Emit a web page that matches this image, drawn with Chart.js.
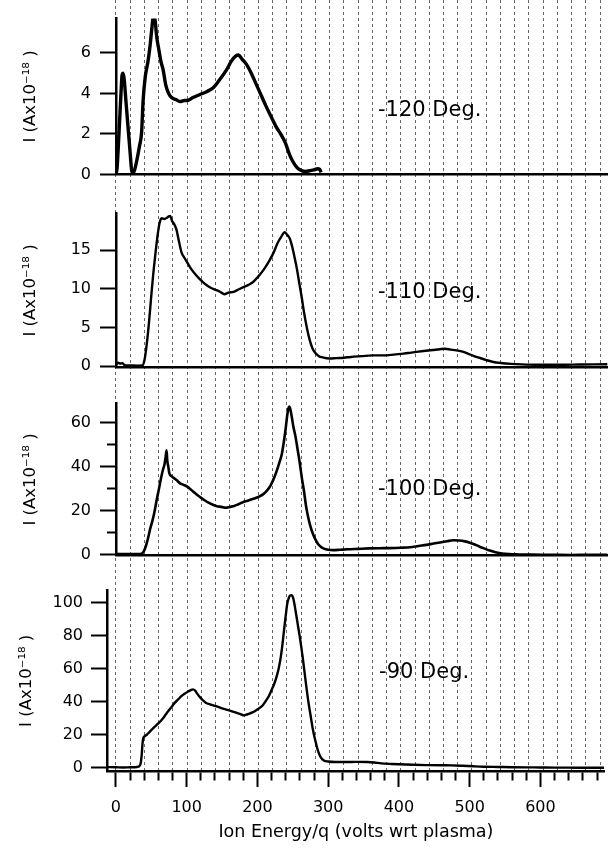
<!DOCTYPE html>
<html>
<head>
<meta charset="utf-8">
<title>Ion energy distributions</title>
<script src="https://cdn.jsdelivr.net/npm/chart.js@4.4.1/dist/chart.umd.min.js"></script>
<style>
  html, body { margin: 0; padding: 0; background: #fff; }
  #figure { position: relative; width: 608px; height: 848px; overflow: hidden; background: #fff; }
  #figure canvas { position: absolute; left: 0; }
</style>
</head>
<body>
<div id="figure">
  <canvas id="grid" width="608" height="771" style="top:0px;width:608px;height:771px"></canvas>
  <canvas id="deg120" width="608" height="193" style="top:0px;width:608px;height:193px"></canvas>
  <canvas id="deg110" width="608" height="191" style="top:195px;width:608px;height:191px"></canvas>
  <canvas id="deg100" width="608" height="189" style="top:385px;width:608px;height:189px"></canvas>
  <canvas id="deg90" width="608" height="275" style="top:573px;width:608px;height:275px"></canvas>
</div>
<script>
// Ion energy/q (volts wrt plasma) and collected current I (A x 1e-18), one pair per angle
const energy120 = [-12, 0, 1.5, 3, 5, 7, 8.5, 10, 11.5, 14, 17, 20, 22, 24, 26, 29, 33, 36, 38, 41, 45, 48, 50, 53, 55, 57, 60, 63, 66, 70, 74, 78, 84, 90, 96, 100, 108, 118, 128, 137, 146, 155, 162, 168, 172, 177, 183, 190, 197, 204, 211, 218, 225, 232, 238, 244, 249, 254, 260, 266, 272, 278, 283, 286, 288];
const current120 = [0, 0, 0.3, 1.2, 2.6, 4.0, 4.9, 5.0, 4.7, 3.6, 2.3, 1.0, 0.2, 0.05, 0.2, 0.65, 1.4, 2.1, 3.6, 4.8, 5.6, 6.4, 7.1, 7.9, 7.6, 6.85, 6.2, 5.6, 5.2, 4.4, 4.0, 3.8, 3.7, 3.6, 3.65, 3.65, 3.8, 3.95, 4.1, 4.3, 4.7, 5.15, 5.6, 5.85, 5.9, 5.7, 5.45, 5.0, 4.45, 3.9, 3.35, 2.85, 2.35, 1.95, 1.55, 0.95, 0.6, 0.35, 0.2, 0.15, 0.18, 0.22, 0.28, 0.25, 0.1];

const energy110 = [0, 3, 6, 9, 12, 20, 30, 37, 40, 43, 46, 49, 52, 55, 58, 61, 64, 68, 72, 76, 79, 82, 85, 88, 92, 96, 100, 106, 112, 118, 124, 130, 136, 142, 148, 152, 158, 165, 172, 179, 186, 193, 200, 207, 214, 221, 227, 232, 237, 240, 244, 247, 250, 254, 258, 261, 264, 268, 272, 276, 280, 285, 290, 300, 310, 320, 330, 345, 360, 375, 390, 400, 410, 422, 435, 445, 455, 462, 470, 478, 488, 495, 502, 510, 520, 530, 540, 555, 570, 590, 610, 630, 650, 670, 690];
const current110 = [0.2, 0.45, 0.35, 0.4, 0.15, 0.1, 0.08, 0.1, 0.8, 2.7, 5.3, 8.5, 11.6, 14.2, 16.6, 18.4, 19.1, 19.0, 19.2, 19.4, 18.7, 18.3, 17.6, 16.3, 14.7, 14.0, 13.4, 12.5, 11.8, 11.2, 10.7, 10.3, 10.0, 9.8, 9.5, 9.3, 9.5, 9.6, 9.9, 10.2, 10.5, 10.9, 11.6, 12.4, 13.4, 14.6, 15.9, 16.7, 17.3, 17.0, 16.5, 15.6, 14.4, 12.6, 10.4, 8.8, 7.0, 5.0, 3.4, 2.3, 1.7, 1.3, 1.15, 1.0, 1.05, 1.1, 1.2, 1.3, 1.4, 1.4, 1.5, 1.6, 1.7, 1.85, 2.0, 2.1, 2.2, 2.25, 2.15, 2.05, 1.85, 1.6, 1.35, 1.1, 0.8, 0.55, 0.42, 0.3, 0.24, 0.2, 0.2, 0.2, 0.22, 0.24, 0.25];

const energy100 = [-12, 0, 10, 20, 30, 36, 39, 42, 45, 48, 51, 54, 57, 60, 63, 66, 68, 69.5, 71, 72, 73.5, 75, 78, 81, 85, 90, 95, 100, 105, 110, 115, 120, 125, 130, 136, 142, 148, 154, 160, 166, 172, 178, 185, 192, 199, 206, 212, 217, 221, 225, 229, 233, 236, 238.5, 240.5, 242, 243.5, 245, 247, 249, 252, 255, 258, 261, 264, 267, 270, 273, 276, 280, 284, 288, 292, 298, 305, 315, 325, 340, 355, 370, 385, 400, 413, 425, 436, 446, 455, 465, 474, 482, 490, 497, 503, 510, 517, 525, 533, 542, 552, 565, 585, 610, 640, 665, 690];
const current100 = [0.3, 0.4, 0.3, 0.35, 0.3, 0.5, 1.5, 4.0, 7.5, 11.8, 15.3, 19.5, 24.7, 29.5, 34.5, 38.8, 41, 44, 47.5, 43, 40, 37, 35.8, 35, 34, 32.5, 31.8, 31, 29.7, 28.3, 27, 25.8, 24.7, 23.7, 22.8, 22.1, 21.8, 21.4, 21.8, 22.2, 23.0, 23.9, 24.6, 25.4, 26.2, 27.4, 29.2, 31.5, 34.2, 37.5, 41.5, 46, 52, 58, 63.5, 66.5, 67.5, 66, 62.5, 58.5, 54, 48, 42, 35, 29, 22, 17, 13, 10, 7, 4.8, 3.5, 2.8, 2.3, 2.1, 2.3, 2.5, 2.7, 2.9, 3.0, 3.05, 3.2, 3.4, 4.0, 4.5, 5.1, 5.6, 6.2, 6.6, 6.5, 6.1, 5.5, 4.8, 3.8, 2.9, 1.9, 1.2, 0.6, 0.3, 0.15, 0.05, 0, -0.1, 0, 0];

const energy90 = [-12.6, 0, 10, 20, 30, 33, 35, 36.5, 37.5, 38.5, 41, 44, 48, 52, 57, 62, 66, 71, 76, 80, 83, 88, 92, 97, 102, 106, 109, 112, 115, 118, 122, 127, 134, 141, 148, 155, 162, 170, 176, 181, 186, 193, 200, 207, 212, 216, 220, 224, 227, 230, 233, 235.5, 237.5, 240, 242, 244, 246, 248.5, 250.5, 252, 254, 257, 260, 264, 268, 272, 275, 278, 282, 285, 289, 294, 300, 310, 325, 340, 355, 365, 375, 390, 400, 420, 440, 460, 475, 490, 505, 520, 540, 560, 580, 600, 620, 640, 660, 690];
const current90 = [0.2, 0.1, 0, 0.1, 0.3, 0.8, 2.5, 8, 14, 17.5, 19, 20, 21.8, 23.5, 25.6, 27.6, 29.5, 32.5, 35.3, 37.5, 39.2, 41.3, 43.1, 44.8, 46.1, 47.0, 47.4, 46.6, 44.8, 43.1, 41.2, 39.3, 38.2, 37.3, 36.2, 35.3, 34.4, 33.3, 32.4, 31.6, 32.3, 33.4, 35.2, 37.5, 40.5, 43.2, 47, 51, 55, 60, 67, 75, 83, 92, 99, 102.5, 104.3, 104.6, 103, 100, 95, 87, 79, 67, 53, 40, 32, 24, 16, 11, 6.5, 4.2, 3.6, 3.3, 3.3, 3.4, 3.3, 3.0, 2.5, 2.1, 1.9, 1.6, 1.4, 1.3, 1.25, 1.0, 0.7, 0.45, 0.3, 0.15, 0.05, 0, -0.1, -0.1, -0.2, -0.2];

// Panel captions and axis texts
const panelNames = ['-120 Deg.', '-110 Deg.', '-100 Deg.', '-90 Deg.'];
const currentAxisTitle = 'I (Ax10\u207B\u00B9\u2078 )';
const energyAxisTitle = 'Ion Energy/q (volts wrt plasma)';

Chart.defaults.font.family = '"DejaVu Sans", "Liberation Sans", sans-serif';
Chart.defaults.color = '#000';
Chart.defaults.animation = false;

const INK = '#000';
const X_MIN = -12.6, X_MAX = 691;

const points = (xs, ys) => xs.map((x, i) => ({x, y: ys[i]}));
const fixWidth = w => scale => { scale.width = w; };
const fixHeight = h => scale => { scale.height = h; };

// Caption written inside a panel, anchored at data coordinates
const panelLabel = {
  id: 'panelLabel',
  afterDatasetsDraw(chart, args, opts) {
    if (!opts || !opts.text) return;
    const {ctx, scales} = chart;
    ctx.save();
    ctx.font = '21px "DejaVu Sans", sans-serif';
    ctx.fillStyle = INK;
    ctx.textAlign = 'left';
    ctx.textBaseline = 'middle';
    ctx.fillText(opts.text, scales.x.getPixelForValue(opts.x), scales.y.getPixelForValue(opts.y));
    ctx.restore();
  }
};

// Dashed vertical grid shared by the whole stack
new Chart(document.getElementById('grid'), {
  type: 'line',
  data: {datasets: []},
  options: {
    responsive: false, maintainAspectRatio: false, events: [],
    layout: {padding: {left: 107, right: 0, top: 0, bottom: 0}},
    plugins: {legend: {display: false}, tooltip: {enabled: false}},
    scales: {
      x: {
        type: 'linear', min: X_MIN, max: X_MAX, afterFit: fixHeight(0),
        ticks: {display: false, stepSize: 20, includeBounds: false, autoSkip: false},
        grid: {color: 'rgba(0,0,0,0.6)', lineWidth: 1, drawTicks: false},
        border: {display: false, dash: [3, 3]}
      },
      y: {display: false, min: 0, max: 1}
    }
  }
});

function makePanel(id, p) {
  const minorY = c => c.tick && Math.abs(c.tick.value % p.yLabelEvery) > 1e-9;
  const minorX = c => c.tick && Math.abs(c.tick.value % 100) > 1e-9;
  const xAxis = p.bottom ? {
    type: 'linear', min: X_MIN, max: X_MAX, afterFit: fixHeight(77),
    ticks: {stepSize: 20, includeBounds: false, autoSkip: false, maxRotation: 0, minRotation: 0,
            padding: 11, font: {size: 16}, callback: v => (Math.abs(v % 100) < 1e-9 ? v : '')},
    grid: {drawOnChartArea: false, drawTicks: true, tickLength: 16, tickWidth: 2, tickColor: INK,
           tickBorderDash: c => (minorX(c) ? [8, 100] : [])},
    border: {display: true, color: INK, width: 2.5},
    title: {display: true, text: energyAxisTitle, font: {size: 17.5}, padding: {top: 0, bottom: 5.5}}
  } : {
    type: 'linear', min: 0, max: X_MAX, afterFit: fixHeight(4),
    ticks: {display: false, stepSize: 20, includeBounds: false, autoSkip: false},
    grid: {display: false},
    border: {display: true, color: INK, width: 2.5}
  };
  return new Chart(document.getElementById(id), {
    type: 'line',
    data: {datasets: [{
      data: points(p.energy, p.current),
      borderColor: INK, borderWidth: p.lineWidth, pointRadius: 0,
      cubicInterpolationMode: 'monotone', fill: false
    }]},
    options: {
      responsive: false, maintainAspectRatio: false, events: [],
      layout: {padding: {top: p.padTop, left: 0, right: 0, bottom: 0}},
      plugins: {
        legend: {display: false}, tooltip: {enabled: false},
        panelLabel: {text: p.name, x: p.nameAt[0], y: p.nameAt[1]}
      },
      scales: {
        x: xAxis,
        y: {
          min: p.yMin, max: p.yMax, afterFit: fixWidth(p.axisWidth),
          ticks: {stepSize: p.yStep, includeBounds: false, autoSkip: false, padding: p.tickPad,
                  font: {size: 16}, callback: v => (minorY({tick: {value: v}}) ? '' : v)},
          grid: {drawOnChartArea: false, drawTicks: true, tickLength: 16, tickWidth: 2, tickColor: INK,
                 tickBorderDash: c => (minorY(c) ? [8, 100] : []),
                 tickBorderDashOffset: c => (minorY(c) ? 101 : 0)},
          border: {display: true, color: INK, width: 2.5},
          title: {display: true, text: currentAxisTitle, font: {size: 16.5}, padding: {top: p.titlePad, bottom: 0}}
        }
      }
    },
    plugins: [panelLabel]
  });
}

makePanel('deg120', {energy: energy120, current: current120, lineWidth: 3.4, padTop: 7,
  yMin: 0, yMax: 7.7, yStep: 2, yLabelEvery: 2, axisWidth: 116, tickPad: 9, titlePad: 21.2,
  name: panelNames[0], nameAt: [368, 3.17]});
makePanel('deg110', {energy: energy110, current: current110, lineWidth: 2.4, padTop: 10,
  yMin: -0.15, yMax: 19.7, yStep: 5, yLabelEvery: 5, axisWidth: 116, tickPad: 9, titlePad: 21.2,
  name: panelNames[1], nameAt: [368, 9.48]});
makePanel('deg100', {energy: energy100, current: current100, lineWidth: 2.6, padTop: 10,
  yMin: -0.28, yMax: 68.8, yStep: 10, yLabelEvery: 20, axisWidth: 116, tickPad: 9, titlePad: 21.2,
  name: panelNames[2], nameAt: [368, 29.7]});
makePanel('deg90', {energy: energy90, current: current90, lineWidth: 2.4, padTop: 10, bottom: true,
  yMin: -2.16, yMax: 107.4, yStep: 20, yLabelEvery: 20, axisWidth: 107, tickPad: 8, titlePad: 17.2,
  name: panelNames[3], nameAt: [372, 57.6]});
</script>
</body>
</html>
